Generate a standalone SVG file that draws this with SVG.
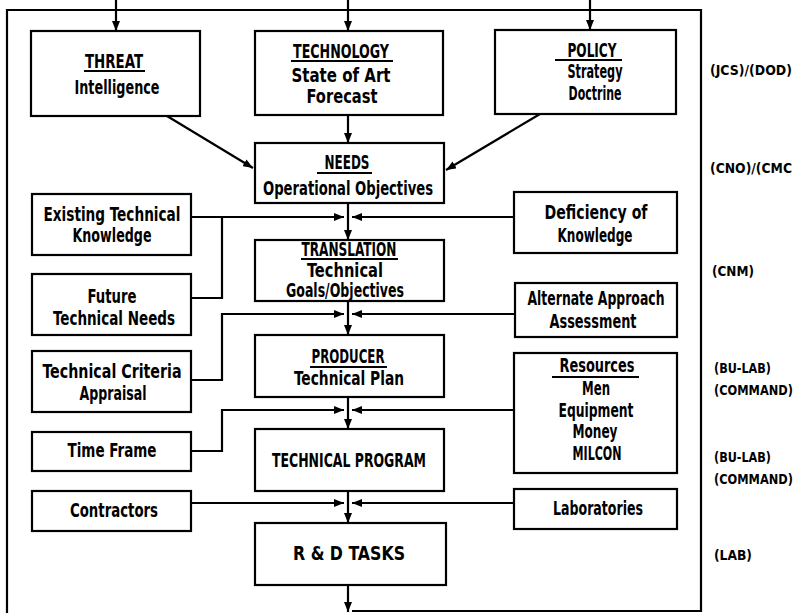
<svg xmlns="http://www.w3.org/2000/svg" width="803" height="613" viewBox="0 0 803 613">
<defs>
<marker id="ah" markerUnits="userSpaceOnUse" markerWidth="11" markerHeight="8" refX="10" refY="4" orient="auto">
<path d="M0,0 L10,4 L0,8 z" fill="#000"/>
</marker>
<style>
.b{fill:#fff;stroke:#000;stroke-width:2.2}
.t{font-family:"Liberation Sans Narrow","DejaVu Sans Condensed","Liberation Sans",sans-serif;font-weight:bold;font-size:19px;fill:#000;text-anchor:middle}
.h{font-size:20px}
.r{font-family:"Liberation Sans Narrow","DejaVu Sans Condensed","Liberation Sans",sans-serif;font-weight:bold;font-size:14px;fill:#000}
.u{stroke:#000;stroke-width:2}
.c{fill:none;stroke:#000;stroke-width:2.2}
.a{marker-end:url(#ah)}
</style>
</defs>
<rect width="803" height="613" fill="#fff"/>
<path class="c" d="M7 613 V10 H701 V611 H352" stroke-width="2.6"/>
<g id="connectors">
<path class="c a" d="M116 0 V31"/>
<path class="c a" d="M348 0 V31"/>
<path class="c a" d="M590 0 V30"/>
<path class="c a" d="M348 115 V143"/>
<path class="c a" d="M167 116 L253 168"/>
<path class="c a" d="M540 114 L446 170"/>
<path class="c a" d="M348 203 V240"/>
<path class="c a" d="M191 217 H344"/>
<path class="c" d="M191 298 H222 V217"/>
<path class="c a" d="M514 217 H352"/>
<path class="c a" d="M348 301 V335"/>
<path class="c a" d="M191 380 H222 V314 H344"/>
<path class="c a" d="M515 314 H352"/>
<path class="c a" d="M348 397 V429"/>
<path class="c a" d="M191 451 H222 V410 H344"/>
<path class="c a" d="M514 410 H352"/>
<path class="c a" d="M348 491 V523"/>
<path class="c a" d="M191 503 H344"/>
<path class="c a" d="M514 503 H352"/>
<path class="c a" d="M348 585 V612"/>
</g>
<g id="threat">
<rect class="b" x="31" y="31" width="169" height="85"/>
<text class="t h" x="114" y="68" textLength="58" lengthAdjust="spacingAndGlyphs">THREAT</text>
<line class="u" x1="84" y1="71" x2="145" y2="71"/>
<text class="t" x="117" y="94" textLength="85" lengthAdjust="spacingAndGlyphs">Intelligence</text>
</g>
<g id="technology">
<rect class="b" x="255" y="31" width="188" height="84"/>
<text class="t h" x="341" y="58" textLength="96" lengthAdjust="spacingAndGlyphs">TECHNOLOGY</text>
<line class="u" x1="291" y1="61" x2="393" y2="61"/>
<text class="t" x="341" y="82" textLength="99" lengthAdjust="spacingAndGlyphs">State of Art</text>
<text class="t" x="342" y="103" textLength="71" lengthAdjust="spacingAndGlyphs">Forecast</text>
</g>
<g id="policy">
<rect class="b" x="495" y="30" width="181" height="84"/>
<text class="t h" x="592" y="57" textLength="49" lengthAdjust="spacingAndGlyphs">POLICY</text>
<line class="u" x1="555" y1="60" x2="622" y2="60"/>
<text class="t" x="595" y="78" textLength="55" lengthAdjust="spacingAndGlyphs">Strategy</text>
<text class="t" x="595" y="100" textLength="53" lengthAdjust="spacingAndGlyphs">Doctrine</text>
</g>
<g id="needs">
<rect class="b" x="255" y="143" width="189" height="60"/>
<text class="t h" x="347" y="169" textLength="45" lengthAdjust="spacingAndGlyphs">NEEDS</text>
<line class="u" x1="317" y1="173" x2="372" y2="173"/>
<text class="t" x="348" y="195" textLength="170" lengthAdjust="spacingAndGlyphs">Operational Objectives</text>
</g>
<g id="existing">
<rect class="b" x="32" y="194" width="159" height="61"/>
<text class="t" x="112" y="221" textLength="137" lengthAdjust="spacingAndGlyphs">Existing Technical</text>
<text class="t" x="112" y="242" textLength="79" lengthAdjust="spacingAndGlyphs">Knowledge</text>
</g>
<g id="deficiency">
<rect class="b" x="514" y="192" width="163" height="61"/>
<text class="t" x="596" y="219" textLength="103" lengthAdjust="spacingAndGlyphs">Deficiency of</text>
<text class="t" x="595" y="242" textLength="75" lengthAdjust="spacingAndGlyphs">Knowledge</text>
</g>
<g id="translation">
<rect class="b" x="255" y="240" width="189" height="61"/>
<text class="t" x="349" y="256" font-size="17" textLength="95" lengthAdjust="spacingAndGlyphs">TRANSLATION</text>
<line class="u" x1="301" y1="259" x2="398" y2="259"/>
<text class="t" x="345" y="277" font-size="17" textLength="76" lengthAdjust="spacingAndGlyphs">Technical</text>
<text class="t" x="345" y="297" font-size="17" textLength="118" lengthAdjust="spacingAndGlyphs">Goals/Objectives</text>
</g>
<g id="future">
<rect class="b" x="32" y="274" width="159" height="61"/>
<text class="t" x="112" y="303" textLength="49" lengthAdjust="spacingAndGlyphs">Future</text>
<text class="t" x="114" y="325" textLength="122" lengthAdjust="spacingAndGlyphs">Technical Needs</text>
</g>
<g id="alternate">
<rect class="b" x="515" y="283" width="162" height="54"/>
<text class="t" x="596" y="305" textLength="137" lengthAdjust="spacingAndGlyphs">Alternate Approach</text>
<text class="t" x="593" y="328" textLength="87" lengthAdjust="spacingAndGlyphs">Assessment</text>
</g>
<g id="criteria">
<rect class="b" x="32" y="351" width="159" height="61"/>
<text class="t" x="112" y="378" textLength="139" lengthAdjust="spacingAndGlyphs">Technical Criteria</text>
<text class="t" x="113" y="400" textLength="67" lengthAdjust="spacingAndGlyphs">Appraisal</text>
</g>
<g id="producer">
<rect class="b" x="255" y="335" width="189" height="62"/>
<text class="t h" x="348" y="363" textLength="73" lengthAdjust="spacingAndGlyphs">PRODUCER</text>
<line class="u" x1="310" y1="367" x2="387" y2="367"/>
<text class="t" x="349" y="385" textLength="110" lengthAdjust="spacingAndGlyphs">Technical Plan</text>
</g>
<g id="resources">
<rect class="b" x="514" y="353" width="163" height="120"/>
<text class="t" x="597" y="372" textLength="75" lengthAdjust="spacingAndGlyphs">Resources</text>
<line class="u" x1="552" y1="377" x2="639" y2="377"/>
<text class="t" x="596" y="395" textLength="28" lengthAdjust="spacingAndGlyphs">Men</text>
<text class="t" x="596" y="417" textLength="75" lengthAdjust="spacingAndGlyphs">Equipment</text>
<text class="t" x="595" y="438" textLength="45" lengthAdjust="spacingAndGlyphs">Money</text>
<text class="t" x="597" y="460" textLength="49" lengthAdjust="spacingAndGlyphs">MILCON</text>
</g>
<g id="timeframe">
<rect class="b" x="32" y="432" width="159" height="39"/>
<text class="t" x="112" y="457" textLength="89" lengthAdjust="spacingAndGlyphs">Time Frame</text>
</g>
<g id="techprogram">
<rect class="b" x="255" y="429" width="189" height="62"/>
<text class="t" x="349" y="467" textLength="154" lengthAdjust="spacingAndGlyphs">TECHNICAL PROGRAM</text>
</g>
<g id="contractors">
<rect class="b" x="32" y="491" width="159" height="40"/>
<text class="t" x="114" y="517" textLength="88" lengthAdjust="spacingAndGlyphs">Contractors</text>
</g>
<g id="laboratories">
<rect class="b" x="514" y="489" width="163" height="40"/>
<text class="t" x="598" y="515" textLength="90" lengthAdjust="spacingAndGlyphs">Laboratories</text>
</g>
<g id="rdtasks">
<rect class="b" x="255" y="523" width="191" height="62"/>
<text class="t" x="349" y="560" textLength="112" lengthAdjust="spacingAndGlyphs">R &amp; D TASKS</text>
</g>
<g id="levels">
<text class="r" x="710" y="75" textLength="82" lengthAdjust="spacingAndGlyphs">(JCS)/(DOD)</text>
<text class="r" x="710" y="173" textLength="82" lengthAdjust="spacingAndGlyphs">(CNO)/(CMC</text>
<text class="r" x="712" y="276" textLength="42" lengthAdjust="spacingAndGlyphs">(CNM)</text>
<text class="r" x="714" y="373" textLength="57" lengthAdjust="spacingAndGlyphs">(BU-LAB)</text>
<text class="r" x="714" y="395" textLength="79" lengthAdjust="spacingAndGlyphs">(COMMAND)</text>
<text class="r" x="714" y="462" textLength="57" lengthAdjust="spacingAndGlyphs">(BU-LAB)</text>
<text class="r" x="714" y="484" textLength="79" lengthAdjust="spacingAndGlyphs">(COMMAND)</text>
<text class="r" x="714" y="560" textLength="38" lengthAdjust="spacingAndGlyphs">(LAB)</text>
</g>
</svg>
